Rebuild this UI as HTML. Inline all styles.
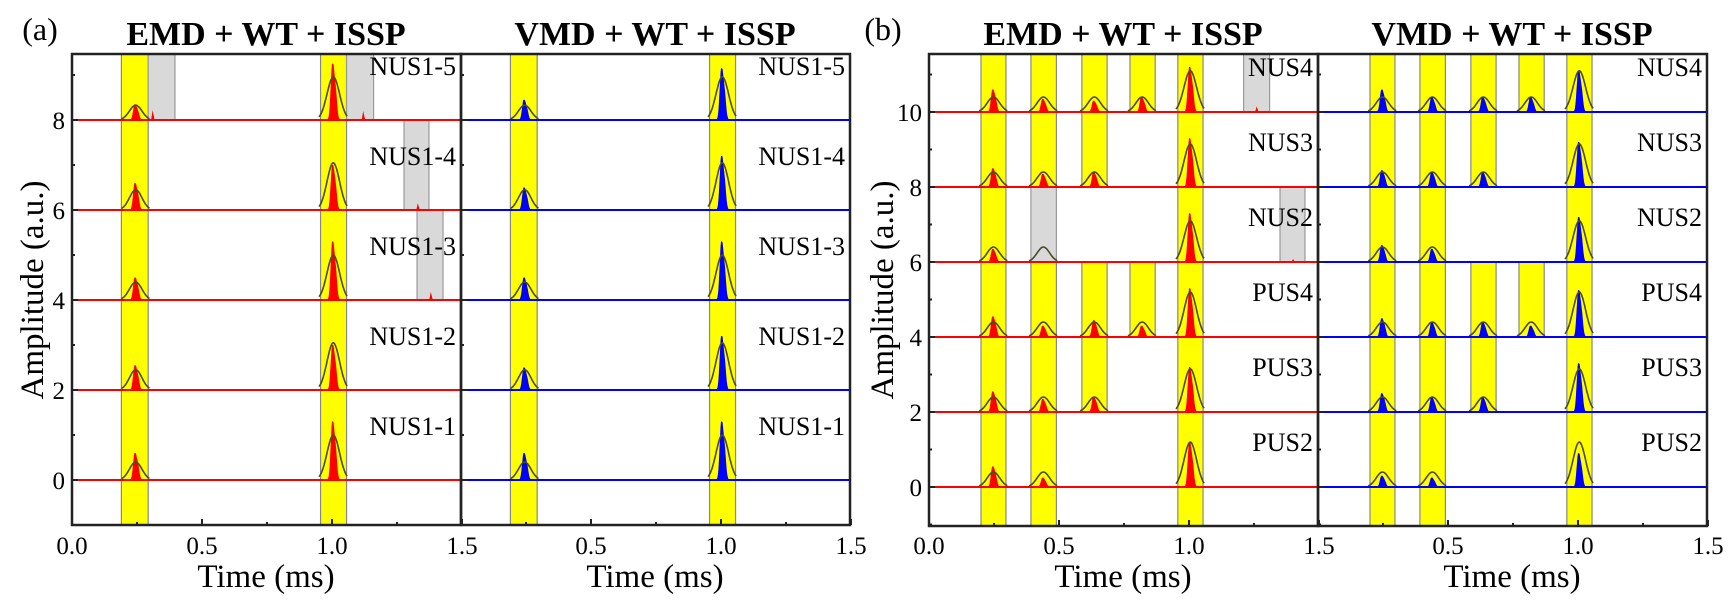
<!DOCTYPE html>
<html><head><meta charset="utf-8"><style>
html,body{margin:0;padding:0;background:#fff;}
svg{display:block;font-family:"Liberation Serif",serif;}
</style></head><body>
<svg id="chart" width="1730" height="603" viewBox="0 0 1730 603" xmlns="http://www.w3.org/2000/svg" font-family="Liberation Serif, serif">
<rect width="1730" height="603" fill="#fff"/>
</svg>
<script>
// ---------- data ----------
const xTickVals = [0, 0.25, 0.5, 0.75, 1.0, 1.25, 1.5];
const xTickLabels = ["0.0", "", "0.5", "", "1.0", "", "1.5"];
// Panel (a)
const aLevels = [0, 2, 4, 6, 8];
const aLabels = ["NUS1-1", "NUS1-2", "NUS1-3", "NUS1-4", "NUS1-5"];
const aPeakTimes = [0.245, 1.005];
const aEnv = [[0.4, 1.0], [0.45, 1.05], [0.4, 1.0], [0.45, 1.05], [0.33, 0.96]];
const aSpikeEMD = [[0.6, 1.3], [0.55, 1.0], [0.5, 1.3], [0.6, 1.0], [0.35, 1.25]];
const aSpikeVMD = [[0.6, 1.3], [0.5, 1.2], [0.5, 1.3], [0.5, 1.2], [0.45, 1.15]];
const aYellow = [[0.19, 0.293], [0.956, 1.056]];
const aGreyEMD = [[], [], [[1.327, 1.427]], [[1.277, 1.373]], [[0.293, 0.396], [1.056, 1.16]]];
const aExtraEMD = [[], [], [[1.38, 0.18]], [[1.33, 0.15]], [[0.31, 0.22], [1.12, 0.2]]];
// Panel (b)
const bLevels = [0, 2, 4, 6, 8, 10];
const bLabels = ["PUS2", "PUS3", "PUS4", "NUS2", "NUS3", "NUS4"];
const bBands = [[0.2, 0.296], [0.392, 0.49], [0.588, 0.685], [0.773, 0.87], [0.957, 1.054]];
const bPeakTimes = [0.248, 0.44, 0.636, 0.82, 1.005];
const bEnv = [[0.4, 0.4, 0, 0, 1.2], [0.4, 0.4, 0.4, 0, 1.15], [0.4, 0.4, 0.4, 0.4, 1.2], [0.4, 0.4, 0, 0, 1.1], [0.4, 0.4, 0.4, 0, 1.15], [0.4, 0.4, 0.4, 0.4, 1.1]];
const bSpikeEMD = [[0.55, 0.25, 0, 0, 1.2], [0.55, 0.35, 0.4, 0, 1.2], [0.55, 0.3, 0.45, 0.3, 1.3], [0.35, 0, 0, 0, 1.3], [0.5, 0.35, 0.4, 0, 1.3], [0.6, 0.35, 0.3, 0.4, 1.2]];
const bSpikeVMD = [[0.3, 0.25, 0, 0, 0.9], [0.5, 0.4, 0.4, 0, 1.3], [0.5, 0.4, 0.4, 0.3, 1.25], [0.45, 0.35, 0, 0, 1.2], [0.45, 0.4, 0.4, 0, 1.2], [0.6, 0.4, 0.4, 0.4, 1.1]];
const bGreyEMD = [[], [], [], [[0.392, 0.49], [1.35, 1.446]], [], [[1.21, 1.31]]];
const bGreyBandEMD = [[], [], [], [1], [], []];
const bExtraEMD = [[], [], [], [[1.4, 0.08]], [], [[1.26, 0.15]]];

// ---------- helpers ----------
const NS = "http://www.w3.org/2000/svg";
const svg = document.getElementById("chart");
function mk(tag, attrs, parent) {
  const e = document.createElementNS(NS, tag);
  for (const k in attrs) e.setAttribute(k, attrs[k]);
  (parent || svg).appendChild(e);
  return e;
}
function txt(x, y, s, size, anchor, weight, parent) {
  const t = mk("text", {x: x, y: y, "font-size": size, "text-anchor": anchor || "middle", "font-weight": weight || "normal", fill: "#000", "font-family": "Liberation Serif, serif"}, parent);
  t.textContent = s;
  return t;
}

function panel(opt) {
  const g = mk("g", {});
  
  
  const X = t => opt.x0 + 260 * t;
  const Y = v => opt.yZero - opt.unit * v;
  const top = 54, bot = opt.bot, right = opt.x0 + 389;
  const n = opt.levels.length;
  const rowTop = i => i === n - 1 ? top : Y(opt.levels[i + 1]);
  const rowBot = i => i === 0 ? bot : Y(opt.levels[i]);
  for (let i = 0; i < n; i++) {
    opt.bands(i).forEach(b => {
      const r = mk("rect", {x: X(b[0]), y: rowTop(i), width: X(b[1]) - X(b[0]), height: rowBot(i) - rowTop(i), fill: b[2] === "g" ? "#d9d9d9" : "#ffff00", stroke: b[2] === "g" ? "#999" : "#888", "stroke-width": 1.2}, g);
      
      
    });
  }
  for (let i = 0; i < n; i++) {
    const base = opt.levels[i];
    opt.peakTimes.forEach((c, j) => {
      const A = opt.env[i][j];
      const S = opt.spike[i][j];
      if (S > 0) {
        let pts = [];
        const sg = 0.006;
        for (let t = c - 0.025; t <= c + 0.0251; t += 0.002) {
          const v = S * Math.exp(-Math.pow((t - c + 0.004) / sg, 2) / 2) + 0.55 * S * Math.exp(-Math.pow((t - c - 0.008) / sg, 2) / 2);
          pts.push(X(t).toFixed(1) + "," + Y(base + Math.min(v, S)).toFixed(1));
        }
        pts.push(X(c + 0.025).toFixed(1) + "," + Y(base).toFixed(1));
        pts.unshift(X(c - 0.025).toFixed(1) + "," + Y(base).toFixed(1));
        const p = mk("polygon", {points: pts.join(" "), fill: opt.color}, g);
        
        
      }
      if (A > 0) {
        let pts = [];
        for (let t = c - 0.055; t <= c + 0.0551; t += 0.004) {
          const v = A * Math.exp(-Math.pow((t - c) / 0.024, 2) / 2);
          pts.push(X(t).toFixed(1) + "," + Y(base + v).toFixed(1));
        }
        const l = mk("polyline", {points: pts.join(" "), fill: "none", stroke: "#4b4b2a", "stroke-width": 1.6}, g);
        
        
      }
    });
    (opt.extra[i] || []).forEach(e => {
      const p = mk("polygon", {points: `${X(e[0]) - 1.5},${Y(base)} ${X(e[0])},${Y(base + e[1])} ${X(e[0]) + 2},${Y(base)}`, fill: opt.color}, g);
      
      
    });
    const bl = mk("line", {x1: opt.x0, x2: right, y1: Y(base), y2: Y(base), stroke: opt.color, "stroke-width": 2}, g);
    
    
    const lb = txt(right - 5, Y(base) - opt.unit * 1.2 + 9, opt.labels[i], 26, "end", "normal", g);
    
    
  }
  const fr = mk("rect", {x: opt.x0, y: top, width: 389, height: bot - top, fill: "none", stroke: "#222", "stroke-width": 2.5}, g);
  
  
  xTickVals.forEach((v, k) => {
    const len = k % 2 === 0 ? 6 : 3;
    mk("line", {x1: X(v), x2: X(v), y1: bot, y2: bot - len, stroke: "#222", "stroke-width": 2}, g);
    const s = xTickLabels[k];
    if (s && !(opt.skipZero && v === 0)) {
      const t = txt(X(v), 554, s, 25, "middle", "normal", g);
      
      
    }
  });
  for (let v = Math.ceil(opt.yMin); v <= opt.yMax; v++) {
    const len = v % 2 === 0 ? 6 : 3;
    mk("line", {x1: opt.x0, x2: opt.x0 + len, y1: Y(v), y2: Y(v), stroke: "#222", "stroke-width": 2}, g);
    if (opt.yLabels && v % 2 === 0) {
      const t = txt(opt.x0 - 7, Y(v) + 9, String(v), 25, "end", "normal", g);
      
      
    }
  }
  const ti = txt(opt.x0 + 194, 45, opt.title, 34, "middle", "bold", g);
  
  
  const xt = txt(opt.x0 + 194, 587, "Time (ms)", 33, "middle", "normal", g);
  
  
}

function aBands(grey) {
  return i => aYellow.map(b => [b[0], b[1], "y"]).concat((grey ? aGreyEMD[i] : []).map(b => [b[0], b[1], "g"]));
}
function bBandsFn(grey) {
  return i => {
    const out = [];
    bBands.forEach((b, j) => {
      if (bEnv[i][j] > 0) out.push([b[0], b[1], grey && bGreyBandEMD[i].indexOf(j) >= 0 ? "g" : "y"]);
    });
    (grey ? bGreyEMD[i] : []).forEach(b => { if (bGreyBandEMD[i].length === 0 || b[0] > 1) out.push([b[0], b[1], "g"]); });
    return out;
  };
}

panel({name: "panel-a-emd", x0: 72, yZero: 480, unit: 45, bot: 525, yMin: -1, yMax: 9.4, levels: aLevels, labels: aLabels, peakTimes: aPeakTimes, env: aEnv, spike: aSpikeEMD, color: "#ff0000", bands: aBands(true), extra: aExtraEMD, title: "EMD + WT + ISSP", yLabels: true, skipZero: false});
panel({name: "panel-a-vmd", x0: 461, yZero: 480, unit: 45, bot: 525, yMin: -1, yMax: 9.4, levels: aLevels, labels: aLabels, peakTimes: aPeakTimes, env: aEnv, spike: aSpikeVMD, color: "#0000ff", bands: aBands(false), extra: [], title: "VMD + WT + ISSP", yLabels: false, skipZero: true});
panel({name: "panel-b-emd", x0: 929, yZero: 487, unit: 37.5, bot: 526, yMin: -1, yMax: 11.4, levels: bLevels, labels: bLabels, peakTimes: bPeakTimes, env: bEnv, spike: bSpikeEMD.map((r, i) => r.map((v, j) => bGreyBandEMD[i].indexOf(j) >= 0 ? 0 : v)), color: "#ff0000", bands: bBandsFn(true), extra: bExtraEMD, title: "EMD + WT + ISSP", yLabels: true, skipZero: false});
panel({name: "panel-b-vmd", x0: 1318, yZero: 487, unit: 37.5, bot: 526, yMin: -1, yMax: 11.4, levels: bLevels, labels: bLabels, peakTimes: bPeakTimes, env: bEnv, spike: bSpikeVMD, color: "#0000ff", bands: bBandsFn(false), extra: [], title: "VMD + WT + ISSP", yLabels: false, skipZero: true});

const la = txt(40, 40, "(a)", 32, "middle");  
const lb = txt(883, 40, "(b)", 32, "middle");  
const ya = txt(0, 0, "Amplitude (a.u.)", 33, "middle"); ya.setAttribute('transform', 'translate(43,290) rotate(-90)');
 
const yb = txt(0, 0, "Amplitude (a.u.)", 33, "middle"); yb.setAttribute('transform', 'translate(893,290) rotate(-90)');
 
</script>
</body></html>
